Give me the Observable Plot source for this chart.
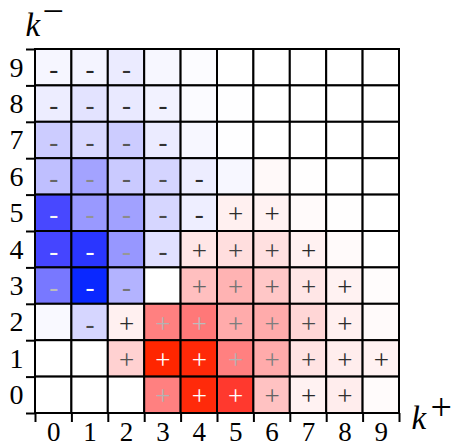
<!DOCTYPE html>
<html><head><meta charset="utf-8">
<script src="https://cdn.jsdelivr.net/npm/d3@7"></script>
<script src="https://cdn.jsdelivr.net/npm/@observablehq/plot@0.6"></script>
<style>body{margin:0;background:#fff}</style>
</head><body><div id="chart"></div>
<script>
// k+ categories (columns) and k- categories (rows, listed top to bottom)
const kPlus = [0, 1, 2, 3, 4, 5, 6, 7, 8, 9];
const kMinusRows = [9, 8, 7, 6, 5, 4, 3, 2, 1, 0];
const tickLabels = ["0", "1", "2", "3", "4", "5", "6", "7", "8", "9"];

// signed intensity per cell (negative = blue, positive = red)
const row9 = [-0.035, -0.045, -0.08, -0.03, -0.01, 0, 0, 0, 0, 0];
const row8 = [-0.07, -0.11, -0.085, -0.05, -0.015, -0.005, 0, 0, 0, 0];
const row7 = [-0.2, -0.15, -0.2, -0.08, -0.03, -0.005, 0, 0, 0, 0];
const row6 = [-0.25, -0.36, -0.21, -0.17, -0.07, -0.03, 0.025, 0.005, 0, 0];
const row5 = [-0.72, -0.4, -0.37, -0.16, -0.065, 0.06, 0.05, 0.02, 0.005, 0];
const row4 = [-0.73, -0.85, -0.41, -0.12, 0.1, 0.13, 0.12, 0.055, 0.02, 0];
const row3 = [-0.53, -1, -0.3, 0, 0.25, 0.3, 0.22, 0.1, 0.05, 0.01];
const row2 = [-0.025, -0.16, 0.06, 0.5, 0.53, 0.33, 0.33, 0.16, 0.06, 0.02];
const row1 = [0, 0, 0.18, 1, 0.97, 0.5, 0.33, 0.11, 0.07, 0.05];
const row0 = [0, 0, 0, 0.5, 0.96, 0.82, 0.24, 0.05, 0.07, 0.015];

// sign markers per cell
const sign9 = ["-", "-", "-", "", "", "", "", "", "", ""];
const sign8 = ["-", "-", "-", "-", "", "", "", "", "", ""];
const sign7 = ["-", "-", "-", "-", "", "", "", "", "", ""];
const sign6 = ["-", "-", "-", "-", "-", "", "", "", "", ""];
const sign5 = ["-", "-", "-", "-", "-", "+", "+", "", "", ""];
const sign4 = ["-", "-", "-", "-", "+", "+", "+", "+", "", ""];
const sign3 = ["-", "-", "-", "", "+", "+", "+", "+", "+", ""];
const sign2 = ["", "-", "+", "+", "+", "+", "+", "+", "+", ""];
const sign1 = ["", "", "+", "+", "+", "+", "+", "+", "+", "+"];
const sign0 = ["", "", "", "+", "+", "+", "+", "+", "+", ""];

const values = [row9, row8, row7, row6, row5, row4, row3, row2, row1, row0];
const signs = [sign9, sign8, sign7, sign6, sign5, sign4, sign3, sign2, sign1, sign0];

const cells = [];
kMinusRows.forEach((km, i) => kPlus.forEach((kp, j) => {
  cells.push({kp, km, v: values[i][j], s: signs[i][j]});
}));

function textColor(v) {
  const g = Math.round(255 * Math.min(1, 0.1 + 1.2 * Math.abs(v)));
  return `rgb(${g},${g},${g})`;
}

const centers = kPlus.map(k => k + 0.5);
const bounds = [...kPlus, kPlus.length];
const serif = "'Liberation Serif', 'DejaVu Serif', serif";

const chart = Plot.plot({
  width: 454,
  height: 441,
  marginLeft: 35,
  marginRight: 55,
  marginTop: 49,
  marginBottom: 28,
  x: {domain: [0, 10], axis: null},
  y: {domain: [0, 10], axis: null},
  color: {type: "linear", domain: [-1, -0.75, 0, 0.75, 1],
          range: ["#0a28ff", "#4040ff", "#ffffff", "#ff4040", "#ff2600"], interpolate: "rgb"},
  style: {fontFamily: serif, background: "white", overflow: "visible"},
  marks: [
    Plot.rect(cells, {x1: d => d.kp, x2: d => d.kp + 1, y1: d => d.km, y2: d => d.km + 1,
      fill: "v", stroke: "black", strokeWidth: 2}),
    Plot.text(cells.filter(d => d.s), {x: d => d.kp + 0.5, y: d => d.km + 0.5, text: "s",
      fill: d => textColor(d.v), fontSize: 27, dy: 1.5}),
    Plot.axisX({ticks: bounds, tickSize: 9, tickFormat: () => "", strokeWidth: 2, stroke: "black"}),
    Plot.axisY({ticks: bounds, tickSize: 9, tickFormat: () => "", strokeWidth: 2, stroke: "black"}),
    Plot.axisX({ticks: centers, tickSize: 0, tickPadding: 8, fontSize: 27, fill: "black",
      tickFormat: d => tickLabels[Math.round(d - 0.5)]}),
    Plot.axisY({ticks: centers, tickSize: 0, tickPadding: 12, fontSize: 28, fill: "black",
      tickFormat: d => tickLabels[Math.round(d - 0.5)]}),
    Plot.text(["k"], {frameAnchor: "top-left", textAnchor: "start", lineAnchor: "middle",
      dx: -10, dy: -24, fontSize: 33, fontStyle: "italic", fill: "black"}),
    Plot.text(["\u2212"], {frameAnchor: "top-left", textAnchor: "start", lineAnchor: "middle",
      dx: 7, dy: -37.5, fontSize: 38, fill: "black"}),
    Plot.text(["k"], {frameAnchor: "bottom-right", textAnchor: "start", lineAnchor: "middle",
      dx: 12, dy: 5, fontSize: 33, fontStyle: "italic", fill: "black"}),
    Plot.text(["+"], {frameAnchor: "bottom-right", textAnchor: "start", lineAnchor: "middle",
      dx: 31, dy: -5.5, fontSize: 38, fill: "black"})
  ]
});
document.getElementById("chart").appendChild(chart);
</script>
</body></html>
